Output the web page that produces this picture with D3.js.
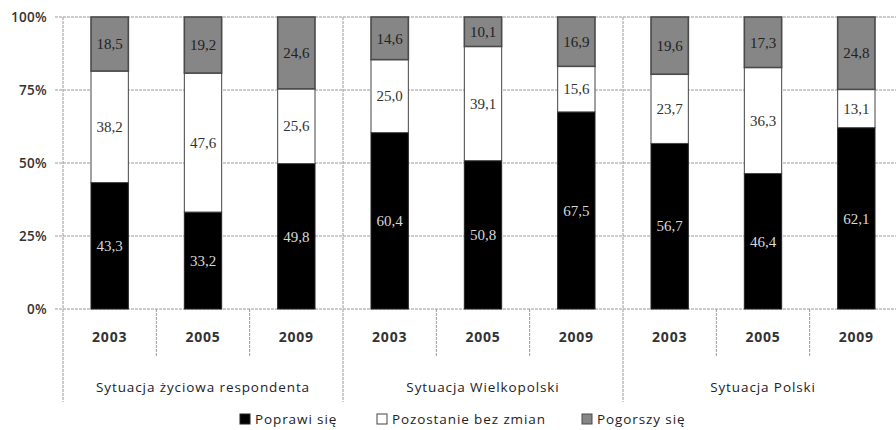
<!DOCTYPE html>
<html><head><meta charset="utf-8">
<script src="https://cdn.jsdelivr.net/npm/d3@7"></script>
<style>html,body{margin:0;padding:0;background:#fff;overflow:hidden}</style>
</head><body>
<svg id="c" width="896" height="430"></svg>
<script>
const groups = ["Sytuacja życiowa respondenta", "Sytuacja Wielkopolski", "Sytuacja Polski"];
const years = ["2003", "2005", "2009"];
const seriesNames = ["Poprawi się", "Pozostanie bez zmian", "Pogorszy się"];
const poprawi = [43.3, 33.2, 49.8, 60.4, 50.8, 67.5, 56.7, 46.4, 62.1];
const pozostanie = [38.2, 47.6, 25.6, 25.0, 39.1, 15.6, 23.7, 36.3, 13.1];
const pogorszy = [18.5, 19.2, 24.6, 14.6, 10.1, 16.9, 19.6, 17.3, 24.8];
const yTicks = [0, 25, 50, 75, 100];

(function(){
const series = [poprawi, pozostanie, pogorszy];
const fills = ["#000000", "#ffffff", "#868686"];
const strokes = ["#222", "#444", "#4a4a4a"];
const labelColors = ["#d8d8d8", "#333", "#222"];

const bars = [];
groups.forEach((g, gi) => years.forEach((yr, yi) => bars.push({id: gi*3+yi, group: g, year: yr})));

const svg = d3.select("#c");
const pL = 63, pR = 903, pT = 17, pB = 309;
const x = d3.scaleBand().domain(bars.map(b => b.id)).range([pL, pR]).paddingInner(0.6).paddingOuter(0.3);
const xb = d3.scaleBand().domain(bars.map(b => b.id)).range([pL, pR]);
const xg = d3.scaleBand().domain(groups).range([pL, pR]);
const y = d3.scaleLinear().domain([0, 100]).range([pB, pT]);

svg.append("g").selectAll("line").data(yTicks).join("line")
  .attr("x1", 55).attr("x2", 896).attr("y1", d => y(d)).attr("y2", d => y(d))
  .attr("stroke", "#9a9a9a").attr("stroke-width", 1).attr("stroke-dasharray", "3,1");

svg.append("g").selectAll("text").data(yTicks).join("text")
  .attr("x", 47).attr("y", d => y(d)).attr("dy", "0.35em").attr("text-anchor", "end")
  .attr("font-family", "Open Sans, sans-serif").attr("font-size", 13.5).attr("font-weight", 600)
  .attr("letter-spacing", 0.3).attr("fill", "#333").text(d => d + "%");

const gBounds = groups.map(g => xg(g)).concat([pR]);
svg.append("g").selectAll("line").data(gBounds).join("line")
  .attr("x1", d => d).attr("x2", d => d).attr("y1", pT).attr("y2", 402)
  .attr("stroke", "#9a9a9a").attr("stroke-dasharray", "3,1");

const ySeps = bars.filter(b => b.id % 3 !== 0).map(b => xb(b.id));
svg.append("g").selectAll("line").data(ySeps).join("line")
  .attr("x1", d => d).attr("x2", d => d).attr("y1", pB).attr("y2", 357)
  .attr("stroke", "#9a9a9a").attr("stroke-dasharray", "3,1");

const stackData = bars.map(b => ({id: b.id, s0: poprawi[b.id], s1: pozostanie[b.id], s2: pogorszy[b.id]}));
const stack = d3.stack().keys(["s0", "s1", "s2"])(stackData);
stack.forEach((layer, si) => {
  const g = svg.append("g");
  g.selectAll("rect").data(layer).join("rect")
    .attr("x", d => x(d.data.id)).attr("width", x.bandwidth())
    .attr("y", d => y(d[1])).attr("height", d => y(d[0]) - y(d[1]))
    .attr("fill", fills[si]).attr("stroke", strokes[si]).attr("stroke-width", si === 2 ? 1.6 : 1);
  g.selectAll("text").data(layer).join("text")
    .attr("x", d => x(d.data.id) + x.bandwidth()/2)
    .attr("y", d => (y(d[0]) + y(d[1]))/2).attr("dy", "0.35em")
    .attr("text-anchor", "middle")
    .attr("font-family", "Liberation Serif, serif").attr("font-size", 15)
    .attr("fill", labelColors[si])
    .text(d => series[si][d.data.id].toFixed(1).replace(".", ","));
});

svg.append("g").selectAll("text").data(bars).join("text")
  .attr("x", d => xb(d.id) + xb.bandwidth()/2).attr("y", 337).attr("dy", "0.35em")
  .attr("text-anchor", "middle").attr("font-family", "Open Sans, sans-serif")
  .attr("font-size", 14).attr("font-weight", 700).attr("letter-spacing", 0.8)
  .attr("fill", "#333").text(d => d.year);

svg.append("g").selectAll("text").data(groups).join("text")
  .attr("x", d => xg(d) + xg.bandwidth()/2).attr("y", 387).attr("dy", "0.35em")
  .attr("text-anchor", "middle").attr("font-family", "Open Sans, sans-serif")
  .attr("font-size", 13.5).attr("letter-spacing", 0.9).attr("fill", "#222")
  .text(d => d);

const legX = [240, 377, 582];
const leg = svg.append("g").selectAll("g").data(seriesNames).join("g")
  .attr("transform", (d, i) => `translate(${legX[i]},424)`);
leg.append("rect").attr("x", 0).attr("y", -10).attr("width", 10).attr("height", 10)
  .attr("fill", (d, i) => fills[i]).attr("stroke", (d, i) => strokes[i]).attr("stroke-width", 1);
leg.append("text").attr("x", 15).attr("y", 0)
  .attr("font-family", "Open Sans, sans-serif").attr("font-size", 13.5)
  .attr("letter-spacing", 0.9).attr("fill", "#222").text(d => d);
})();
</script>
</body></html>
